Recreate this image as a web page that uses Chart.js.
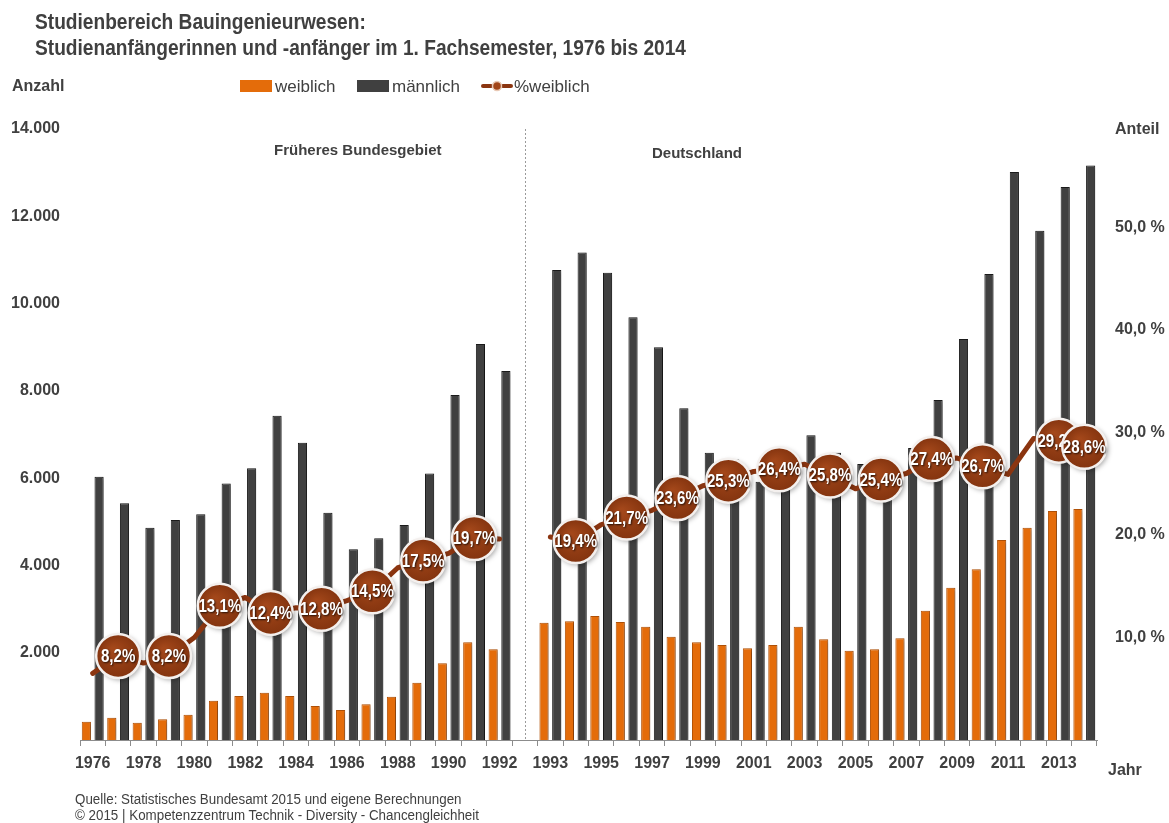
<!DOCTYPE html>
<html lang="de">
<head>
<meta charset="utf-8">
<title>Studienbereich Bauingenieurwesen</title>
<script src="https://cdn.jsdelivr.net/npm/chart.js@4.4.1/dist/chart.umd.min.js"></script>
<style>
  html, body { margin: 0; padding: 0; background: #fff; }
  #wrap { position: relative; width: 1169px; height: 823px; overflow: hidden;
          font-family: "Liberation Sans Narrow", "Arial Narrow", "Liberation Sans", Arial, sans-serif; color: #404040; }
  #wrap canvas { position: absolute; left: 0; top: 0; }
  .txt { position: absolute; white-space: nowrap; line-height: 1; transform-origin: 0 0; }
  .b { font-weight: bold; }
  .box { position: absolute; width: 32px; height: 12px; }
  .titel { font-size: 22px; transform: scaleX(0.87); }
  .quelle { font-size: 14px; transform: scaleX(0.955); }
</style>
</head>
<body>
<div id="wrap">
  <canvas id="chart" width="1169" height="823"></canvas>

  <div class="txt b titel" style="left:35px; top:11px;">Studienbereich Bauingenieurwesen:</div>
  <div class="txt b titel" style="left:35px; top:37px;">Studienanfängerinnen und -anfänger im 1. Fachsemester, 1976 bis 2014</div>

  <div class="txt b" style="left:12px; top:78px; font-size:16px;">Anzahl</div>

  <div class="box" style="left:240px; top:80px; background:#E46C0A;"></div>
  <div class="txt" style="left:275px; top:78px; font-size:17px;">weiblich</div>
  <div class="box" style="left:357px; top:80px; background:#404040;"></div>
  <div class="txt" style="left:392px; top:78px; font-size:17px;">männlich</div>
  <canvas id="legendLine" width="34" height="16" style="left:480px; top:78px;"></canvas>
  <div class="txt" style="left:514px; top:78px; font-size:17px;">%weiblich</div>

  <div class="txt b" style="left:1115px; top:121px; font-size:16px;">Anteil</div>
  <div class="txt b" style="left:1108px; top:762px; font-size:16px;">Jahr</div>

  <div class="txt b" style="left:274px; top:142px; font-size:15px;">Früheres Bundesgebiet</div>
  <div class="txt b" style="left:652px; top:145px; font-size:15px;">Deutschland</div>

  <div class="txt quelle" style="left:75px; top:792px;">Quelle: Statistisches Bundesamt 2015 und eigene Berechnungen</div>
  <div class="txt quelle" style="left:75px; top:808px;">© 2015 | Kompetenzzentrum Technik - Diversity - Chancengleichheit</div>
</div>

<script>
const FONT = '"Liberation Sans Narrow", "Arial Narrow", "Liberation Sans", Arial, sans-serif';

// 1976-1992 (Früheres Bundesgebiet), leere Kategorie, 1993-2014 (Deutschland)
const jahre = ['1976','1977','1978','1979','1980','1981','1982','1983','1984','1985','1986','1987','1988','1989','1990','1991','1992',
  '',
  '1993','1994','1995','1996','1997','1998','1999','2000','2001','2002','2003','2004','2005','2006','2007','2008','2009','2010','2011','2012','2013','2014'];

const weiblich = [420,512,397,473,580,901,1008,1084,1008,779,687,817,993,1313,1756,2238,2077,
  null,
  2687,2719,2841,2703,2596,2367,2238,2176,2101,2176,2596,2307,2046,2078,2330,2962,3489,3911,4582,4864,5246,5292];

const maennlich = [6032,5422,4865,5040,5170,5880,6224,7430,6812,5208,4368,4620,4926,6109,7904,9072,8454,
  null,
  10767,11173,10706,9684,8997,7599,6582,6425,5918,6066,6981,6582,6323,6103,6690,7789,9187,10676,13013,11668,12669,13166];

const anteilWeiblich = [6.5,8.2,7.5,8.2,10.0,13.1,13.9,12.4,12.9,12.8,13.6,14.5,16.8,17.5,18.2,19.7,19.6,
  null,
  19.8,19.4,21.0,21.7,22.4,23.6,24.8,25.3,26.2,26.4,26.9,25.8,24.5,25.4,26.0,27.4,27.5,26.7,25.9,29.4,29.2,28.6];

// Punkte mit Beschriftung (Index in jahre)
const beschriftet = [1,3,5,7,9,11,13,15,19,21,23,25,27,29,31,33,35,38,39];

const linksTicks = [2000,4000,6000,8000,10000,12000,14000];
const rechtsTicks = [10,20,30,40,50];

const ORANGE = '#E46C0A';
const GRAU = '#404040';
const BRAUN = '#8B3510';

function deZahl(v) {
  return v.toLocaleString('de-DE');
}
function prozent(v) {
  return v.toFixed(1).replace('.', ',') + '%';
}

// Schatten fuer die Balken
const barShadow = {
  id: 'barShadow',
  beforeDatasetDraw(chart, args) {
    if (args.meta.type !== 'bar') return;
    const ctx = chart.ctx;
    ctx.save();
    ctx.shadowColor = 'rgba(0,0,0,0.28)';
    ctx.shadowBlur = 4;
    ctx.shadowOffsetX = 3;
    ctx.shadowOffsetY = 1;
  },
  afterDatasetDraw(chart, args) {
    if (args.meta.type !== 'bar') return;
    chart.ctx.restore();
  }
};

// Trennlinie und runde Datenbeschriftungen
const extras = {
  id: 'extras',
  beforeDatasetsDraw(chart) {
    const ctx = chart.ctx;
    const x = Math.round(chart.scales.x.getPixelForValue(17)) + 0.5;
    ctx.save();
    ctx.strokeStyle = '#9a9a9a';
    ctx.lineWidth = 1;
    ctx.setLineDash([2, 2]);
    ctx.beginPath();
    ctx.moveTo(x, chart.chartArea.top);
    ctx.lineTo(x, chart.chartArea.bottom);
    ctx.stroke();
    ctx.restore();
  },
  afterDatasetsDraw(chart) {
    const ctx = chart.ctx;
    const meta = chart.getDatasetMeta(2);
    beschriftet.forEach(function(i) {
      const pt = meta.data[i];
      const r = 22;
      ctx.save();
      ctx.shadowColor = 'rgba(0,0,0,0.35)';
      ctx.shadowBlur = 5;
      ctx.shadowOffsetX = 2;
      ctx.shadowOffsetY = 2;
      const g = ctx.createRadialGradient(pt.x - 5, pt.y - 7, 2, pt.x, pt.y, r);
      g.addColorStop(0, '#A3471A');
      g.addColorStop(1, '#84340F');
      ctx.fillStyle = g;
      ctx.beginPath();
      ctx.arc(pt.x, pt.y, r, 0, Math.PI * 2);
      ctx.fill();
      ctx.shadowColor = 'transparent';
      ctx.lineWidth = 2.5;
      ctx.strokeStyle = '#f4f0ee';
      ctx.stroke();

      ctx.translate(pt.x, pt.y + 1);
      ctx.scale(0.84, 1);
      ctx.font = 'bold 18px ' + FONT;
      ctx.textAlign = 'center';
      ctx.textBaseline = 'middle';
      ctx.shadowColor = 'rgba(0,0,0,0.75)';
      ctx.shadowBlur = 2;
      ctx.shadowOffsetX = 1;
      ctx.shadowOffsetY = 1;
      ctx.fillStyle = '#ffffff';
      ctx.fillText(prozent(anteilWeiblich[i]), 0, 0);
      ctx.restore();
    });
  }
};

function drawLegendLine() {
  const c = document.getElementById('legendLine');
  c.style.position = 'absolute';
  const ctx = c.getContext('2d');
  ctx.strokeStyle = BRAUN;
  ctx.lineWidth = 4;
  ctx.lineCap = 'round';
  ctx.beginPath(); ctx.moveTo(3, 8); ctx.lineTo(11, 8); ctx.stroke();
  ctx.beginPath(); ctx.moveTo(23, 8); ctx.lineTo(31, 8); ctx.stroke();
  ctx.fillStyle = '#A24518';
  ctx.strokeStyle = '#e9c9b5';
  ctx.lineWidth = 1.5;
  ctx.beginPath(); ctx.arc(17, 8, 4.5, 0, Math.PI * 2); ctx.fill(); ctx.stroke();
}

function initChart() {
  const ctx = document.getElementById('chart').getContext('2d');
  const tickFont = { family: FONT, size: 16, weight: 'bold' };

  new Chart(ctx, {
    type: 'bar',
    data: {
      labels: jahre,
      datasets: [{
        label: 'weiblich',
        data: weiblich,
        yAxisID: 'y',
        backgroundColor: ORANGE,
        borderColor: '#B65408',
        borderWidth: 1,
        categoryPercentage: 1.0,
        barPercentage: 0.72,
        order: 2
      }, {
        label: 'männlich',
        data: maennlich,
        yAxisID: 'y',
        backgroundColor: GRAU,
        borderColor: '#1c1c1c',
        borderWidth: 1,
        categoryPercentage: 1.0,
        barPercentage: 0.72,
        order: 2
      }, {
        type: 'line',
        label: '%weiblich',
        data: anteilWeiblich,
        yAxisID: 'y1',
        borderColor: BRAUN,
        borderWidth: 5,
        borderCapStyle: 'round',
        borderJoinStyle: 'round',
        pointRadius: 0,
        tension: 0,
        spanGaps: false,
        order: 0
      }]
    },
    options: {
      responsive: false,
      animation: false,
      layout: { padding: { top: 129, left: 0, right: 0, bottom: 0 } },
      plugins: {
        legend: { display: false },
        tooltip: { enabled: false }
      },
      scales: {
        x: {
          offset: true,
          grid: { offset: true, drawOnChartArea: false, drawTicks: true, tickLength: 6, color: '#8c8c8c' },
          border: { display: true, color: '#8c8c8c', width: 1 },
          ticks: {
            autoSkip: false,
            maxRotation: 0,
            padding: 8,
            color: GRAU,
            font: tickFont,
            callback: function(value, index) {
              return index % 2 === 0 ? jahre[index] : '';
            }
          },
          afterFit: function(scale) { scale.height = 83; }
        },
        y: {
          position: 'left',
          min: 0,
          max: 14000,
          grid: { display: false, drawTicks: false },
          border: { display: false },
          afterBuildTicks: function(scale) {
            scale.ticks = linksTicks.map(function(v) { return { value: v }; });
          },
          ticks: {
            padding: 20,
            color: GRAU,
            font: tickFont,
            callback: function(value) { return deZahl(value); }
          },
          afterFit: function(scale) { scale.width = 80; }
        },
        y1: {
          position: 'right',
          min: 0,
          max: 59.6,
          grid: { display: false, drawTicks: false },
          border: { display: false },
          afterBuildTicks: function(scale) {
            scale.ticks = rechtsTicks.map(function(v) { return { value: v }; });
          },
          ticks: {
            padding: 18,
            color: GRAU,
            font: tickFont,
            callback: function(value) { return value.toFixed(1).replace('.', ',') + ' %'; }
          },
          afterFit: function(scale) { scale.width = 72; }
        }
      }
    },
    plugins: [barShadow, extras]
  });
}

document.addEventListener('DOMContentLoaded', function() {
  drawLegendLine();
  initChart();
});
</script>
</body>
</html>
